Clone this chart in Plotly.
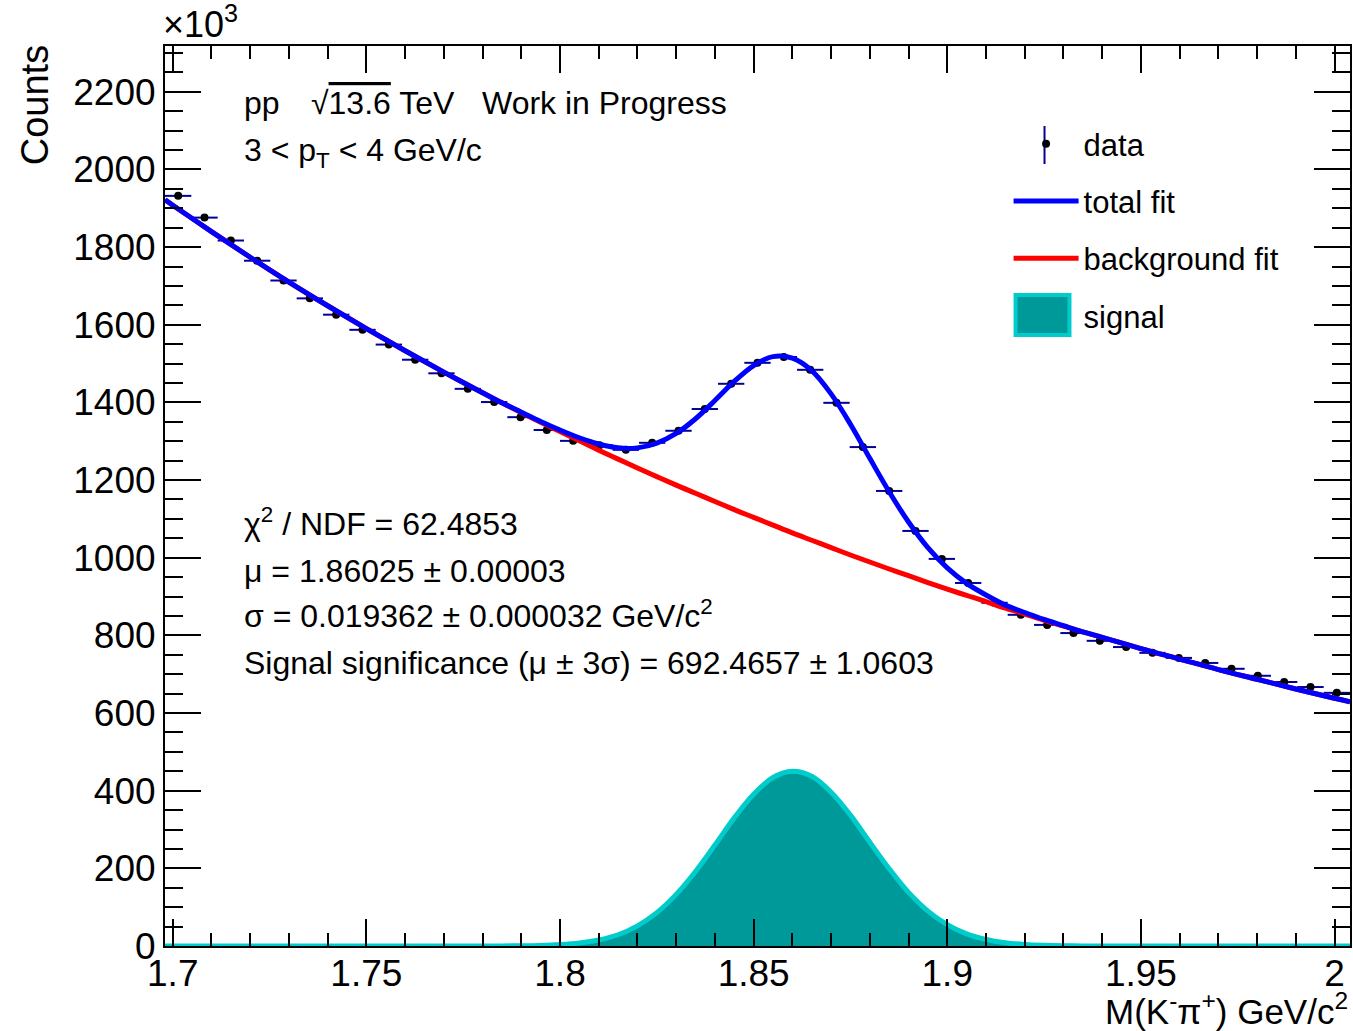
import numpy as np
import plotly.graph_objects as go

# ---------------- data (values in units of 10^3 counts) ----------------
bin_lo = 1.698
bin_width = 0.0068
counts = [1932, 1876, 1817, 1765, 1714, 1668, 1626, 1587, 1549, 1510,
          1475, 1435, 1401, 1362, 1329, 1301, 1290, 1278, 1296, 1327,
          1383, 1448, 1502, 1517, 1484, 1399, 1285, 1172, 1069, 997,
          935, 884, 853, 827, 806, 786, 770, 755, 742, 729,
          714, 696, 680, 667, 652]
centers = bin_lo + bin_width * (np.arange(len(counts)) + 0.5)

fit_x = [1.698, 1.70, 1.71, 1.72, 1.73, 1.74, 1.75, 1.76, 1.77, 1.78,
         1.785, 1.79, 1.795, 1.80, 1.805, 1.81, 1.815, 1.82, 1.825, 1.83,
         1.835, 1.84, 1.845, 1.85, 1.855, 1.86, 1.865, 1.87, 1.875, 1.88,
         1.885, 1.89, 1.895, 1.90, 1.905, 1.91, 1.915, 1.92, 1.925, 1.93,
         1.935, 1.94, 1.95, 1.96, 1.97, 1.98, 1.99, 2.00, 2.004]
bkg_fit = [1922, 1908, 1840, 1774, 1710, 1649, 1590, 1533, 1478, 1425,
           1399, 1374, 1349, 1325, 1301, 1277, 1254, 1231, 1209, 1187,
           1166, 1145, 1124, 1104, 1084, 1064, 1045, 1026, 1007, 989,
           971, 954, 936, 919, 903, 887, 870, 855, 839, 824,
           809, 795, 766, 739, 712, 687, 662, 638, 629]
signal_fit = [0, 0, 0, 0, 0, 0, 0, 0, 0, 0.1,
              0.24, 0.6, 1.5, 3.6, 7.7, 15.5, 29, 52, 86, 133,
              192, 260, 330, 391, 434, 450, 437, 396, 337, 267,
              199, 138, 90, 55, 31, 16.6, 8.3, 3.8, 1.7, 0.7,
              0.26, 0.1, 0, 0, 0, 0, 0, 0, 0]
total_fit = [1922, 1908, 1840, 1774, 1710, 1649, 1590, 1533, 1478, 1425,
             1399, 1375, 1351, 1329, 1309, 1293, 1283, 1283, 1295, 1320,
             1358, 1405, 1454, 1495, 1518, 1514, 1482, 1422, 1344, 1256,
             1170, 1092, 1026, 974, 934, 904, 878, 859, 841, 825,
             809, 795, 766, 739, 712, 687, 662, 638, 629]

x_tickvals = [1.7, 1.75, 1.8, 1.85, 1.9, 1.95, 2.0]
x_ticktext = ["1.7", "1.75", "1.8", "1.85", "1.9", "1.95", "2"]
y_tickvals = [0, 200, 400, 600, 800, 1000, 1200, 1400, 1600, 1800, 2000, 2200]

FONT = "Liberation Sans, Arial, Helvetica, sans-serif"
W, H = 1353, 1031
L, R, T, B = 165, 1, 46, 85
PW, PH = W - L - R, H - T - B

SIG_LINE = "#00CCCC"
SIG_FILL = "#009999"
ERR_COL = "#000099"


def px(xp):
    return (xp - L) / PW


def py(yp):
    return (H - B - yp) / PH


fig = go.Figure()

fig.add_trace(go.Scatter(
    x=centers, y=counts, mode="markers", name="data",
    marker=dict(color="black", size=8),
    error_x=dict(type="constant", value=bin_width / 2, thickness=2, width=0, color=ERR_COL),
    legendgroup="a", legendrank=1,
))
fig.add_trace(go.Scatter(
    x=fit_x, y=signal_fit, mode="lines", name="signal",
    line=dict(color=SIG_LINE, width=5, shape="spline"),
    fill="tozeroy", fillcolor=SIG_FILL,
    showlegend=False,
))
fig.add_trace(go.Scatter(
    x=fit_x, y=bkg_fit, mode="lines", name="background fit",
    line=dict(color="#FF0000", width=5, shape="spline"),
    legendgroup="c", legendrank=3,
))
fig.add_trace(go.Scatter(
    x=fit_x, y=total_fit, mode="lines", name="total fit",
    line=dict(color="#0000FF", width=5, shape="spline"),
    legendgroup="b", legendrank=2,
))
# legend entry for the signal (its box glyph is drawn as a shape below)
fig.add_trace(go.Scatter(
    x=[None], y=[None], mode="lines", name="signal",
    line=dict(color="rgba(0,0,0,0)", width=1),
    legendgroup="d", legendrank=4, hoverinfo="skip",
))

axis_common = dict(
    showline=True, linecolor="black", linewidth=2, mirror="ticks",
    ticks="inside", tickcolor="black", tickwidth=2,
    showgrid=False, zeroline=False,
    tickfont=dict(family=FONT, size=37, color="black"),
)

fig.update_xaxes(
    range=[1.698, 2.004], tickmode="array", tickvals=x_tickvals, ticktext=x_ticktext,
    ticklen=27, ticklabelstandoff=-6,
    minor=dict(tickmode="linear", tick0=1.7, dtick=0.01, ticks="inside", ticklen=13,
               tickwidth=2, tickcolor="black", showgrid=False),
    **axis_common,
)
fig.update_yaxes(
    range=[0, 2318], tickmode="array", tickvals=y_tickvals,
    ticklen=36,
    minor=dict(tickmode="linear", tick0=0, dtick=50, ticks="inside", ticklen=18,
               tickwidth=2, tickcolor="black", showgrid=False),
    **axis_common,
)

ann_font = dict(family=FONT, size=32, color="black")
annotations = [
    dict(text="pp", x=px(242), y=py(103)),
    dict(text="√<span style='text-decoration:overline'>13.6</span> TeV", x=px(309), y=py(103)),
    dict(text="Work in Progress", x=px(481), y=py(103)),
    dict(text="3 < p<sub>T</sub> < 4 GeV/c", x=px(242), y=py(152)),
    dict(text="χ<sup>2</sup> / NDF = 62.4853", x=px(242), y=py(522)),
    dict(text="μ = 1.86025 ± 0.00003", x=px(242), y=py(571)),
    dict(text="σ = 0.019362 ± 0.000032 GeV/c<sup>2</sup>", x=px(242), y=py(614)),
    dict(text="Signal significance (μ ± 3σ) = 692.4657 ± 1.0603", x=px(242), y=py(663)),
]
for a in annotations:
    a.update(xref="paper", yref="paper", xanchor="left", yanchor="middle",
             showarrow=False, font=ann_font)

annotations.append(dict(
    text="M(K<sup>-</sup>π<sup>+</sup>) GeV/c<sup>2</sup>", x=1.0, y=py(1009),
    xref="paper", yref="paper", xanchor="right", yanchor="middle",
    showarrow=False, font=dict(family=FONT, size=35, color="black")))
annotations.append(dict(
    text="Counts", x=px(35), y=py(105), textangle=-90,
    xref="paper", yref="paper", xanchor="center", yanchor="middle",
    showarrow=False, font=dict(family=FONT, size=38, color="black")))
annotations.append(dict(
    text="×10<sup>3</sup>", x=px(161), y=py(47),
    xref="paper", yref="paper", xanchor="left", yanchor="bottom",
    showarrow=False, font=dict(family=FONT, size=36, color="black")))

# legend glyph decorations (ROOT style): error bar through the data dot, box for signal
shapes = [
    dict(type="line", xref="paper", yref="paper",
         x0=px(1046), x1=px(1046), y0=py(126), y1=py(164),
         line=dict(color=ERR_COL, width=2)),
    dict(type="rect", xref="paper", yref="paper",
         x0=px(1017), x1=px(1071), y0=py(295), y1=py(335),
         line=dict(color=SIG_LINE, width=4), fillcolor=SIG_FILL),
]

fig.update_layout(
    width=W, height=H,
    margin=dict(l=L, r=R, t=T, b=B, pad=0),
    paper_bgcolor="white", plot_bgcolor="white",
    font=dict(family=FONT, color="black"),
    annotations=annotations,
    shapes=shapes,
    showlegend=True,
    legend=dict(
        x=px(1010), y=py(117), xanchor="left", yanchor="top",
        bgcolor="rgba(0,0,0,0)", borderwidth=0,
        font=dict(family=FONT, size=31, color="black"),
        tracegroupgap=14, itemwidth=65,
    ),
)

fig.write_html("out.html")
